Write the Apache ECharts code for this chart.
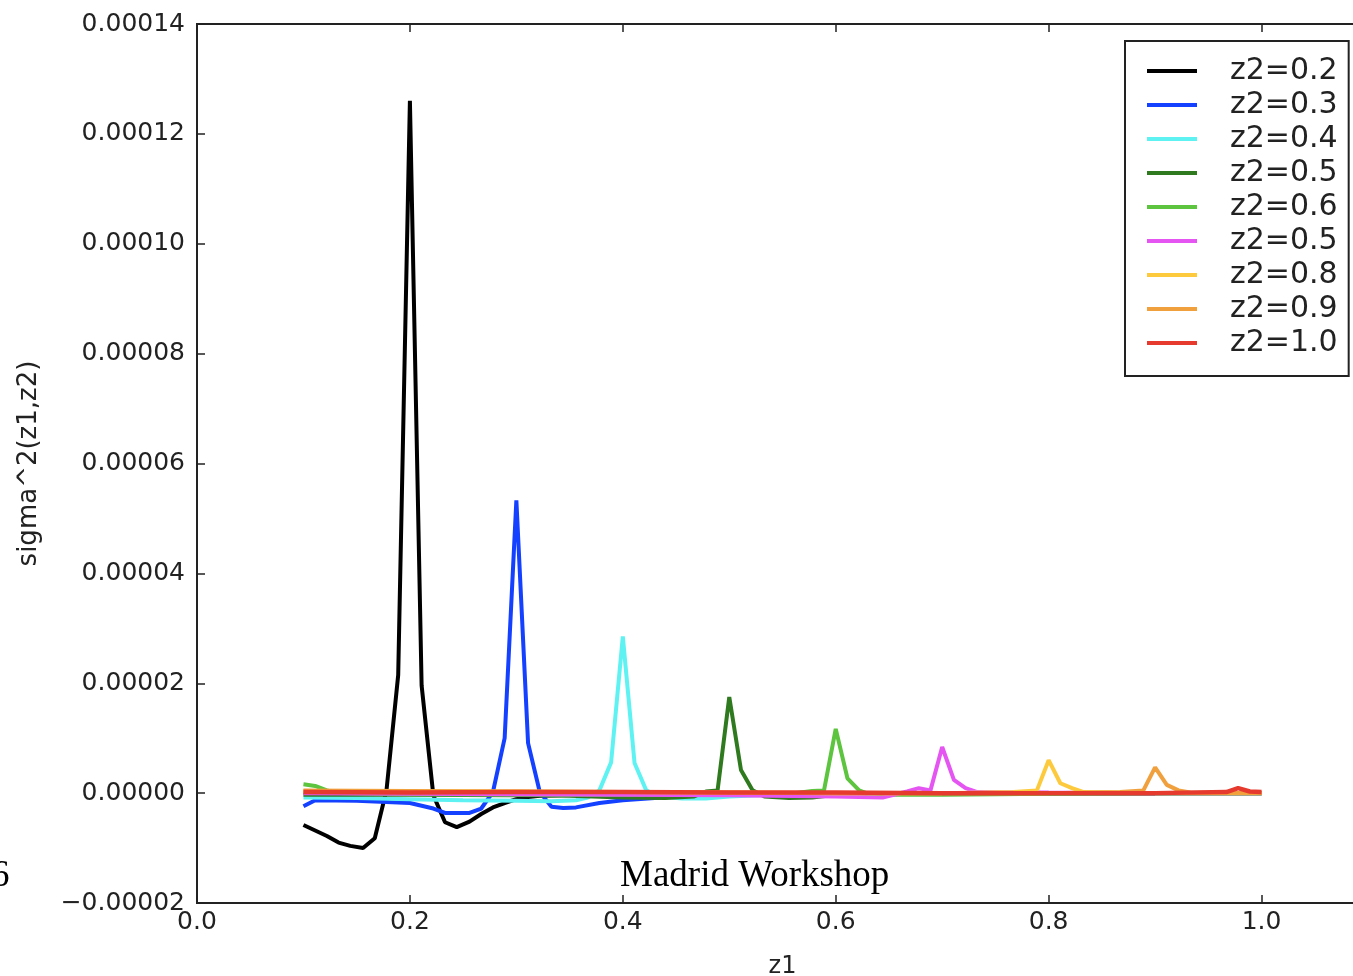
<!DOCTYPE html>
<html>
<head>
<meta charset="utf-8">
<script src="https://cdn.jsdelivr.net/npm/echarts@6/dist/echarts.min.js"></script>
<style>
html,body{margin:0;padding:0;background:#fff;}
#chart{width:1353px;height:976px;}
</style>
</head>
<body>
<div id="chart"></div>
<script>
// values in units of 1e-6
const UNIT = 1e-6;
// the sixth entry is labelled "z2=0.5" in the original; a zero-width space keeps it distinct for the legend
const seriesNames = ['z2=0.2','z2=0.3','z2=0.4','z2=0.5','z2=0.6','z2=0.5\u200B','z2=0.8','z2=0.9','z2=1.0'];
const seriesColors = ['#000000','#1440ff','#5ef2f2','#2f7a1f','#5cc43e','#e455f2','#fcca3c','#f1a03e','#e63a2e'];

const x02 = [0.1,0.111,0.122,0.133,0.144,0.156,0.167,0.178,0.189,0.2,0.211,0.222,0.233,0.244,0.256,0.267,0.278,0.289,0.3,0.311,0.322,0.35,0.4,0.45,0.5,0.6,0.7,0.8,0.9,1.0];
const y02 = [-5.8,-6.8,-7.8,-9.0,-9.6,-10.0,-8.2,0.5,21.5,126,19.6,-0.4,-5.3,-6.2,-5.2,-3.8,-2.6,-1.8,-1.1,-0.7,-0.5,-0.3,-0.4,-0.3,-0.1,0,0,0,0,0];

const x03 = [0.1,0.111,0.15,0.2,0.222,0.233,0.256,0.267,0.278,0.289,0.3,0.311,0.322,0.333,0.344,0.356,0.378,0.4,0.45,0.5,0.6,0.7,0.8,0.9,1.0];
const y03 = [-2.4,-1.3,-1.4,-1.8,-2.8,-3.6,-3.6,-2.8,0.2,10,53.3,9.1,0.2,-2.5,-2.7,-2.6,-1.8,-1.3,-0.6,-0.3,-0.1,0,0,0,0];

const x04 = [0.1,0.15,0.2,0.25,0.3,0.333,0.356,0.367,0.378,0.389,0.4,0.411,0.422,0.433,0.456,0.478,0.5,0.55,0.6,0.7,0.8,0.9,1.0];
const y04 = [-0.8,-0.9,-1.1,-1.3,-1.4,-1.5,-1.3,-0.8,0.5,5.6,28.5,5.5,0.5,-0.6,-1.0,-1.0,-0.6,-0.2,0,0,0,0,0];

const x05 = [0.1,0.2,0.3,0.35,0.4,0.44,0.467,0.478,0.489,0.5,0.511,0.522,0.533,0.556,0.578,0.6,0.7,0.8,0.9,1.0];
const y05 = [-0.3,-0.3,-0.4,-0.5,-0.8,-0.9,-0.6,0.3,0.5,17.5,4.2,0.5,-0.6,-0.9,-0.8,-0.3,0,0,0,0];

const x06 = [0.1,0.111,0.122,0.133,0.2,0.3,0.4,0.5,0.55,0.578,0.589,0.6,0.611,0.622,0.633,0.7,0.8,0.9,1.0];
const y06 = [1.6,1.3,0.5,0,-0.2,-0.3,-0.3,-0.3,-0.3,0.4,0.5,11.7,2.7,0.5,-0.3,-0.3,-0.1,0,0];

const x07 = [0.1,0.2,0.3,0.4,0.5,0.6,0.644,0.667,0.678,0.689,0.7,0.711,0.722,0.733,0.8,0.9,1.0];
const y07 = [0,-0.1,-0.2,-0.3,-0.4,-0.6,-0.8,0.3,0.9,0.5,8.4,2.4,0.9,0.2,0.1,0,0];

const x08 = [0.1,0.2,0.3,0.4,0.5,0.6,0.7,0.767,0.789,0.8,0.811,0.822,0.833,0.9,1.0];
const y08 = [0.4,0.3,0.3,0.2,0.1,0,0,0.2,0.5,6.0,1.8,0.9,0.2,0,0];

const x09 = [0.1,0.2,0.3,0.4,0.5,0.6,0.7,0.8,0.867,0.889,0.9,0.911,0.922,0.933,1.0];
const y09 = [0.5,0.4,0.3,0.2,0.1,0,0,0,0.2,0.5,4.7,1.5,0.5,0.1,0];

const x10 = [0.1,0.2,0.3,0.4,0.5,0.6,0.7,0.8,0.9,0.967,0.978,0.989,1.0];
const y10 = [0.2,0.1,0.2,0.2,0.1,0.1,0,0,0,0.2,0.9,0.3,0.2];

const xTicks = [0.0,0.2,0.4,0.6,0.8,1.0];
const yTicks = [-0.00002,0,0.00002,0.00004,0.00006,0.00008,0.00010,0.00012,0.00014];

const allX = [x02,x03,x04,x05,x06,x07,x08,x09,x10];
const allY = [y02,y03,y04,y05,y06,y07,y08,y09,y10];

const series = seriesNames.map((name, i) => ({
  name: name,
  type: 'line',
  data: allX[i].map((xv, j) => [xv, allY[i][j] * UNIT]),
  showSymbol: false,
  symbol: 'none',
  lineStyle: { color: seriesColors[i], width: i === 8 ? 4.5 : 4 },
  itemStyle: { color: seriesColors[i] },
  z: 2 + i,
  animation: false
}));

const chart = echarts.init(document.getElementById('chart'));
const axisFont = { fontFamily: 'DejaVu Sans', fontSize: 25, color: '#222' };
chart.setOption({
  animation: false,
  backgroundColor: '#fff',
  grid: { left: 197, top: 24, right: -15, bottom: 73, outerBoundsMode: 'none', containLabel: false, show: true, borderColor: '#222', borderWidth: 2 },
  legend: {
    orient: 'vertical',
    left: 1125, top: 41,
    data: seriesNames.map((n, i) => ({ name: n, icon: 'rect', itemStyle: { color: seriesColors[i] } })),
    itemWidth: 50, itemHeight: 4, itemGap: 4,
    padding: [15, 11, 18, 22],
    borderColor: '#222', borderWidth: 2, backgroundColor: '#fff',
    textStyle: { fontFamily: 'DejaVu Sans', fontSize: 30, color: '#222', lineHeight: 30, padding: [0, 0, 0, 28] },
    selectedMode: false
  },
  xAxis: [{
    type: 'value', min: 0, max: 1.1, interval: 0.2,
    name: 'z1', nameLocation: 'middle', nameGap: 52,
    nameTextStyle: { fontFamily: 'DejaVu Sans', fontSize: 24, color: '#222' },
    axisLine: { show: true, onZero: false, lineStyle: { color: '#222', width: 2 } },
    axisTick: { show: true, inside: true, length: 8, lineStyle: { color: '#222', width: 1.5 } },
    axisLabel: Object.assign({ margin: 7, showMaxLabel: false, formatter: v => xTicks.some(t => Math.abs(t - v) < 1e-9) ? v.toFixed(1) : '' }, axisFont),
    splitLine: { show: false }
  }, {
    type: 'value', min: 0, max: 1.1, interval: 0.2, position: 'top',
    axisLine: { show: true, onZero: false, lineStyle: { color: '#222', width: 2 } },
    axisTick: { show: true, inside: true, length: 8, lineStyle: { color: '#222', width: 1.5 } },
    axisLabel: { show: false },
    splitLine: { show: false }
  }],
  yAxis: [{
    type: 'value', min: -0.00002, max: 0.00014, interval: 0.00002,
    name: 'sigma^2(z1,z2)', nameLocation: 'middle', nameGap: 155, nameRotate: 90,
    nameTextStyle: { fontFamily: 'DejaVu Sans', fontSize: 26, color: '#222' },
    axisLine: { show: true, onZero: false, lineStyle: { color: '#222', width: 2 } },
    axisTick: { show: true, inside: true, length: 8, lineStyle: { color: '#222', width: 1.5 } },
    axisLabel: Object.assign({ margin: 12, formatter: v => {
      const t = yTicks.find(t => Math.abs(t - v) < 1e-10);
      if (t === undefined) return '';
      return t.toFixed(5).replace('-', '\u2212');
    } }, axisFont),
    splitLine: { show: false }
  }],
  series: series,
  graphic: [
    { type: 'text', x: 620, y: 858, style: { text: 'Madrid Workshop', font: '37px "Liberation Serif"', fill: '#000' }, z: 100 },
    { type: 'text', x: -9, y: 858, style: { text: '6', font: '37px "Liberation Serif"', fill: '#000' }, z: 100 }
  ]
});
</script>
</body>
</html>
